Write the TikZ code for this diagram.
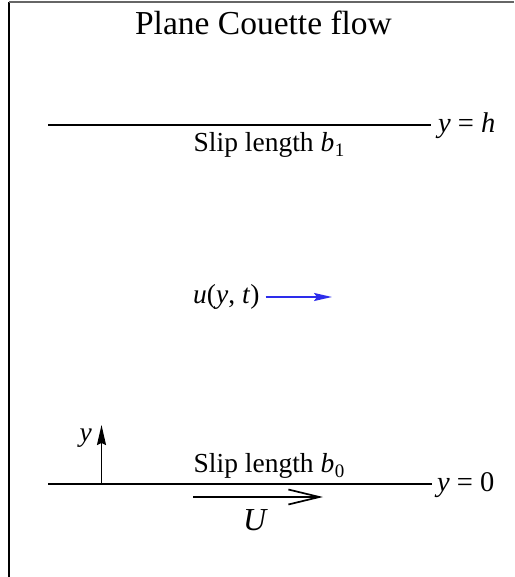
\documentclass[tikz,border=0pt]{standalone}
\usepackage{fontspec}
\setmainfont{Liberation Serif}
\usetikzlibrary{arrows.meta}
\definecolor{flowblue}{RGB}{45,45,235}
\newcommand{\mysub}[1]{\hspace{0.5pt}\raisebox{-5pt}{\fontsize{19}{19}\selectfont #1}}
\begin{document}
\begin{tikzpicture}[x=1pt,y=-1pt,
  wall/.style={line width=2pt,black},
  lbl/.style={inner sep=0pt,font=\fontsize{27.5}{32}\selectfont},
  ttl/.style={inner sep=0pt,font=\fontsize{33.5}{38}\selectfont}]
\useasboundingbox (0,0) rectangle (514,577);
% frame
\draw[line width=1.5pt,black] (9,577) -- (9,2);
\draw[line width=1.5pt,black!60] (9,2) -- (514,2);
% title
\node[ttl,anchor=base] (title) at (263.5,35) {Plane Couette flow};
% upper wall
\coordinate (tl) at (48,125.5);
\coordinate (tr) at (431,125.5);
\draw[wall] (tl) -- (tr);
\node[lbl,anchor=base west,font=\fontsize{28.5}{32}\selectfont] (yh) at (438,133) {\textit{y} = \textit{h}};
\node[lbl,anchor=base west] (slip1) at (193.5,152) {Slip length \textit{b}\mysub{1}};
% velocity
\node[lbl,anchor=base west] (u) at (193,303) {\textit{u}(\textit{y}, \textit{t})};
\coordinate (ue) at (332,297);
\draw[flowblue,line width=2pt,-{Stealth[length=18pt,width=8pt,inset=3pt]}] (u.east |- ue) ++(6,0) -- (ue);
% lower wall
\coordinate (bl) at (48,483.5);
\coordinate (br) at (432,483.5);
\draw[wall] (bl) -- (br);
\node[lbl,anchor=base west,font=\fontsize{28.5}{32}\selectfont] (y0) at (437,491) {\textit{y} = 0};
\node[lbl,anchor=base west] (slip0) at (193.5,472) {Slip length \textit{b}\mysub{0}};
% wall velocity
\coordinate (us) at (193,497);
\coordinate (ut) at (323,497);
\draw[line width=1.7pt,-{Straight Barb[length=31pt,width=15pt,line width=1.7pt]}] (us) -- (ut);
\node[lbl,anchor=base west,font=\fontsize{32}{36}\selectfont] (U) at (243,530) {\textit{U}};
% y axis
\coordinate (ya) at (101.5,483.5);
\coordinate (yb) at (101.5,425);
\draw[line width=1.5pt,-{Stealth[length=20pt,width=9pt,inset=2pt]}] (ya) -- (yb);
\node[lbl,anchor=base east] (ylab) at (92,441) {\textit{y}};
\end{tikzpicture}
\end{document}
